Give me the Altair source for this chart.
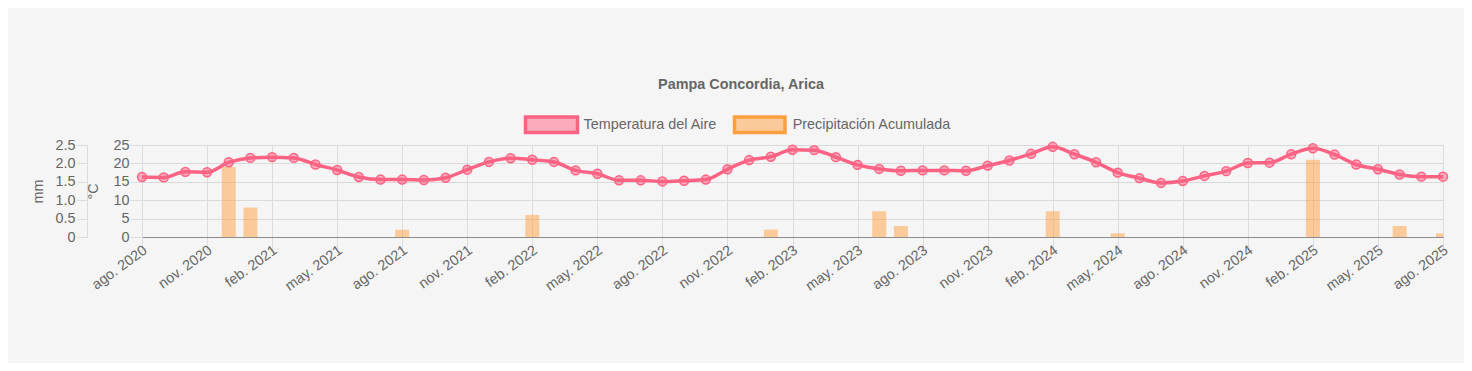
import altair as alt
import pandas as pd

abreviaturas = ["ene.", "feb.", "mar.", "abr.", "may.", "jun.",
                "jul.", "ago.", "sep.", "oct.", "nov.", "dic."]
meses = []
for anio in range(2020, 2026):
    for i, ab in enumerate(abreviaturas):
        if (anio == 2020 and i < 7) or (anio == 2025 and i > 7):
            continue
        meses.append(f"{ab} {anio}")

temperatura = [
    16.3, 16.2, 17.7, 17.6, 20.3,
    21.5, 21.7, 21.5, 19.7, 18.2, 16.3, 15.6, 15.6, 15.5, 16.1, 18.3, 20.4,
    21.4, 21.0, 20.4, 18.1, 17.2, 15.4, 15.4, 15.1, 15.3, 15.6, 18.4, 20.9,
    21.8, 23.7, 23.6, 21.7, 19.6, 18.5, 18.0, 18.1, 18.1, 18.0, 19.4, 20.8,
    22.6, 24.5, 22.5, 20.3, 17.5, 16.0, 14.7, 15.2, 16.6, 17.9, 20.1, 20.2,
    22.5, 24.1, 22.4, 19.7, 18.4, 17.0, 16.4, 16.4,
]
precipitacion = [
    0, 0, 0, 0, 1.9,
    0.8, 0, 0, 0, 0, 0, 0, 0.2, 0, 0, 0, 0,
    0, 0.6, 0, 0, 0, 0, 0, 0, 0, 0, 0, 0,
    0.2, 0, 0, 0, 0, 0.7, 0.3, 0, 0, 0, 0, 0,
    0, 0.7, 0, 0, 0.1, 0, 0, 0, 0, 0, 0, 0,
    0, 2.1, 0, 0, 0, 0.3, 0, 0.1,
]
ticks_x = meses[::3]
ticks_c = [0, 5, 10, 15, 20, 25]
ticks_mm = [0, 0.5, 1.0, 1.5, 2.0, 2.5]

titulo = "Pampa Concordia, Arica"
serie_temp = "Temperatura del Aire"
serie_prec = "Precipitación Acumulada"

df = pd.DataFrame({"mes": meses, "temp": temperatura, "prec": precipitacion})

FONT = "Liberation Sans"
GRAY = "#666666"
FS = 14.4

x_enc = alt.X(
    "mes:O",
    scale=alt.Scale(type="point", padding=0, domain=meses),
    axis=alt.Axis(
        values=ticks_x, title=None, labelAngle=-36, labelAlign="right",
        labelBaseline="top", labelPadding=-8, labelOffset=-1, tickSize=14,
        tickColor="#dcdcdc",
        grid=True, gridColor="#dcdcdc", domainColor="#8c8c8c",
        labelFontSize=FS, labelColor=GRAY, labelFont=FONT,
    ),
)

bars = alt.Chart(df).mark_bar(size=14, color="#FF9F40", opacity=0.5, clip=True).encode(
    x=x_enc,
    y=alt.Y(
        "prec:Q",
        scale=alt.Scale(domain=[0, 2.5], nice=False),
        axis=alt.Axis(
            orient="left", offset=55, values=ticks_mm, title="mm",
            labelExpr="datum.value === 0 ? '0' : format(datum.value, '.1f')",
            grid=False, tickSize=10, tickColor="#dcdcdc", domainColor="#dcdcdc",
            labelPadding=2, labelFontSize=FS, labelColor=GRAY, labelFont=FONT,
            titleFontSize=FS, titleColor=GRAY, titleFont=FONT, titleFontWeight="normal",
            titleX=-49, titleY=46, titleAngle=-90, titleAlign="center", titleBaseline="middle",
        ),
    ),
)

line = alt.Chart(df).mark_line(
    color="#FF6384", strokeWidth=3.5, interpolate="monotone",
    point=alt.OverlayMarkDef(filled=True, shape="circle", size=80, fill="#FF6384",
                             fillOpacity=0.5, stroke="#FF6384", strokeWidth=1.5),
).encode(
    x=x_enc,
    y=alt.Y(
        "temp:Q",
        scale=alt.Scale(domain=[0, 25], nice=False),
        axis=alt.Axis(
            orient="left", values=ticks_c, title="°C",
            grid=True, gridColor="#d9d9d9", tickSize=12, tickColor="#dcdcdc",
            domainColor="#dcdcdc", labelPadding=1,
            labelFontSize=FS, labelColor=GRAY, labelFont=FONT,
            titleFontSize=FS, titleColor=GRAY, titleFont=FONT, titleFontWeight="normal",
            titleX=-49, titleY=46, titleAngle=-90, titleAlign="center", titleBaseline="middle",
        ),
    ),
)

uno = pd.DataFrame({"t": [titulo]})
title_mark = alt.Chart(uno).mark_text(
    font=FONT, fontSize=FS, fontWeight="bold", color=GRAY, baseline="alphabetic", align="center"
).encode(text="t:N", x=alt.value(599), y=alt.value(-56.5))

def caja(x0, x1, fill, stroke):
    return alt.Chart(uno).mark_rect(fill=fill, fillOpacity=0.5, stroke=stroke, strokeWidth=3.5).encode(
        x=alt.value(x0), x2=alt.value(x1), y=alt.value(-28), y2=alt.value(-12.5)
    )

def etiqueta(x0, texto):
    return alt.Chart(pd.DataFrame({"t": [texto]})).mark_text(
        font=FONT, fontSize=FS, color=GRAY, align="left", baseline="middle"
    ).encode(text="t:N", x=alt.value(x0), y=alt.value(-20))

legend = alt.layer(
    caja(383.5, 435.5, "#FF6384", "#FF6384"),
    etiqueta(441.5, serie_temp),
    caja(592.5, 643, "#FF9F40", "#FF9F40"),
    etiqueta(650.7, serie_prec),
)

chart = alt.layer(bars, line, title_mark, legend).resolve_scale(y="independent").properties(
    width=1301, height=92,
    padding={"left": 134, "top": 137, "right": 21, "bottom": 126},
    autosize=alt.AutoSizeParams(type="none"),
    background="#f5f5f5",
).configure_view(stroke=None)

chart.save("out.html", embed_options={"renderer": "svg", "actions": False})
